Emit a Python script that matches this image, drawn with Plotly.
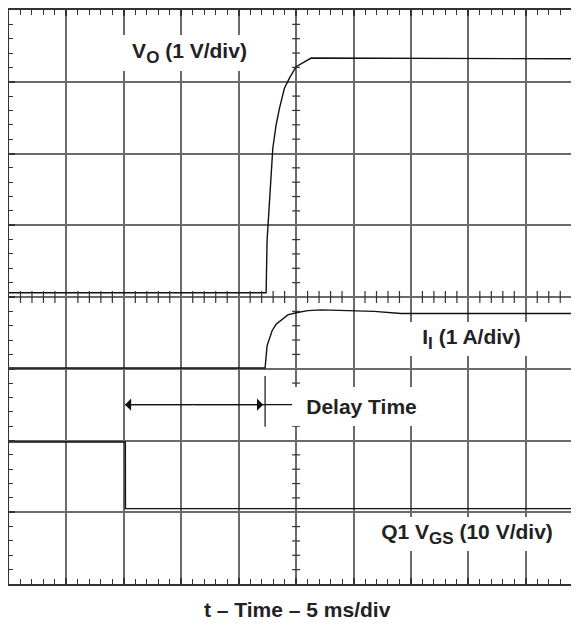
import plotly.graph_objects as go

# ---- data (time in ms, 5 ms/div; vertical position in screen divisions, 8 div tall) ----
t_vo = [0, 22.39, 22.47, 22.97, 23.26, 23.55, 23.98, 24.42, 25.0, 25.44, 26.31, 50.0]
y_vo = [4.06, 4.06, 4.78, 6.07, 6.40, 6.63, 6.91, 7.05, 7.21, 7.25, 7.33, 7.32]

t_ii = [0, 22.30, 22.47, 22.91, 23.26, 23.69, 24.28, 25.0, 26.02, 27.18, 30.08, 31.79, 34.15, 37.63, 50.0]
y_ii = [3.01, 3.01, 3.32, 3.53, 3.62, 3.68, 3.75, 3.78, 3.81, 3.82, 3.81, 3.80, 3.77, 3.77, 3.77]

t_vgs = [0, 10.13, 10.14, 50.0]
y_vgs = [1.98, 1.98, 1.05, 1.05]

delay_start = 10.10   # ms, gate drive falls
delay_end = 22.13     # ms, input current starts
delay_level = 2.5     # div
delay_marker = 22.30  # ms
delay_marker_y = [2.19, 2.90]

SUB = '<sub><span style="font-size:17px">{}</span></sub>'
labels = ["V" + SUB.format("O") + " (1 V/div)",
          "I" + SUB.format("I") + " (1 A/div)",
          "Delay Time",
          "Q1 V" + SUB.format("GS") + " (10 V/div)"]
label_t = [15.76, 40.27, 30.71, 39.91]
label_y = [7.40, 3.42, 2.48, 0.69]
label_w = [135, 125, 137, 190]
label_h = [34, 32, 37, 32]

x_title = "t \u2013 Time \u2013 5 ms/div"

PX_PER_DIV = 57.42
PLOT_W = 570
T_MAX = PLOT_W / PX_PER_DIV * 5   # visible part of the 10 div (50 ms) screen
Y_DIV = 8

FONT = "Liberation Sans, Arial, Helvetica, sans-serif"
GRID = "#6a6a6a"
DARK = "#333333"

fig = go.Figure()
for tx, ty in [(t_vo, y_vo), (t_ii, y_ii), (t_vgs, y_vgs)]:
    fig.add_trace(go.Scatter(x=tx, y=ty, mode="lines",
                             line=dict(color="#111111", width=1.4),
                             hoverinfo="skip", showlegend=False))

# delay time bracket
fig.add_trace(go.Scatter(x=[delay_start, 24.7], y=[delay_level, delay_level], mode="lines",
                         line=dict(color="#111111", width=1.2), hoverinfo="skip", showlegend=False))
fig.add_trace(go.Scatter(x=[delay_marker, delay_marker], y=delay_marker_y, mode="lines",
                         line=dict(color="#111111", width=1.2), hoverinfo="skip", showlegend=False))

annotations = []
for tip in (delay_start, delay_end):
    annotations.append(dict(x=tip, y=delay_level, ax=16.0, ay=delay_level,
                            xref="x", yref="y", axref="x", ayref="y",
                            text="", showarrow=True, arrowhead=1, arrowsize=1.7,
                            arrowwidth=1.2, arrowcolor="#111111"))

for txt, tx, ty, w, h in zip(labels, label_t, label_y, label_w, label_h):
    annotations.append(dict(x=tx, y=ty, xref="x", yref="y", text="<b>" + txt + "</b>",
                            showarrow=False, bgcolor="white", borderwidth=0,
                            width=w, height=h, xanchor="center", yanchor="middle",
                            font=dict(family=FONT, size=21, color="#222222")))

annotations.append(dict(x=25.13, y=-26 / 576, xref="x", yref="paper",
                        text="<b>" + x_title + "</b>", showarrow=False,
                        xanchor="center", yanchor="middle",
                        font=dict(family=FONT, size=21, color="#222222")))

# center graticule axes with minor ticks
shapes = [
    dict(type="line", xref="x", yref="y", x0=0, x1=T_MAX, y0=4, y1=4,
         line=dict(color=DARK, width=1.5), layer="below"),
    dict(type="line", xref="x", yref="y", x0=25, x1=25, y0=0, y1=Y_DIV,
         line=dict(color=DARK, width=1.5), layer="below"),
]
for k in range(1, 50):
    if k % 5 == 0:
        continue
    shapes.append(dict(type="line", xref="x", yref="y", ysizemode="pixel", yanchor=4,
                       x0=k, x1=k, y0=-6, y1=6, line=dict(color=DARK, width=1.2)))
for k in range(1, 40):
    if k % 5 == 0:
        continue
    shapes.append(dict(type="line", xref="x", yref="y", xsizemode="pixel", xanchor=25,
                       y0=k / 5, y1=k / 5, x0=-4, x1=4, line=dict(color=DARK, width=1.2)))

# page body keeps an 8 px margin, so the figure starts at (8, 8)
fig.update_layout(
    width=571, height=620,
    margin=dict(l=1, r=0, t=0, b=44),
    paper_bgcolor="white", plot_bgcolor="white",
    showlegend=False,
    annotations=annotations,
    shapes=shapes,
    xaxis=dict(range=[0, T_MAX], tick0=0, dtick=5, showgrid=True, gridcolor=GRID, gridwidth=1.5,
               zeroline=False, showline=True, linecolor=DARK, linewidth=1.5, mirror="allticks",
               ticks="inside", ticklen=6, tickwidth=1.5, tickcolor=DARK, showticklabels=False,
               minor=dict(dtick=1, ticks="inside", ticklen=5, tickwidth=1.2, tickcolor=DARK,
                          showgrid=False),
               fixedrange=True),
    yaxis=dict(range=[0, Y_DIV], tick0=0, dtick=1, showgrid=True, gridcolor=GRID, gridwidth=1.5,
               zeroline=False, showline=True, linecolor=DARK, linewidth=1.5, mirror=False,
               ticks="inside", ticklen=6, tickwidth=1.5, tickcolor=DARK, showticklabels=False,
               minor=dict(dtick=0.2, ticks="inside", ticklen=4, tickwidth=1.2, tickcolor=DARK,
                          showgrid=False),
               fixedrange=True),
)

fig.write_html("out.html", config={"displayModeBar": False})
